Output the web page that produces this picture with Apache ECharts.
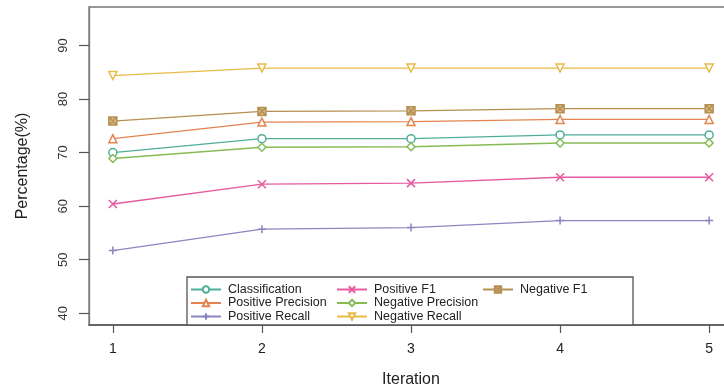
<!DOCTYPE html>
<html>
<head>
<meta charset="utf-8">
<script src="https://cdn.jsdelivr.net/npm/echarts@6/dist/echarts.min.js"></script>
<style>
  html, body { margin: 0; padding: 0; background: #fff; }
  #chart { width: 724px; height: 390px; }
</style>
</head>
<body>
<div id="chart"></div>
<script>
// Iterations on the x axis
const iterations = [1, 2, 3, 4, 5];
const yTicks = [40, 50, 60, 70, 80, 90];

// Scores (%) per iteration
const classification = [70.0, 72.6, 72.6, 73.3, 73.3];
const positivePrecision = [72.6, 75.7, 75.8, 76.2, 76.2];
const positiveRecall = [51.7, 55.7, 56.0, 57.3, 57.3];
const positiveF1 = [60.4, 64.1, 64.3, 65.4, 65.4];
const negativePrecision = [68.9, 71.0, 71.1, 71.8, 71.8];
const negativeRecall = [84.4, 85.8, 85.8, 85.8, 85.8];
const negativeF1 = [75.9, 77.7, 77.8, 78.2, 78.2];

const seriesNames = [
  'Classification', 'Positive Precision', 'Positive Recall',
  'Positive F1', 'Negative Precision', 'Negative Recall', 'Negative F1'
];
const seriesValues = [
  classification, positivePrecision, positiveRecall,
  positiveF1, negativePrecision, negativeRecall, negativeF1
];

// Dark2-like palette, softened
const colors = ['#4fae98', '#e3844f', '#8a86c0', '#e65a9f', '#86bb55', '#e9bb45', '#b68f52'];

// Markers: circle, triangle, plus, cross, diamond, inverted triangle, boxed cross
const symbols = [
  'circle',
  'path://M0,-10 L9,7 L-9,7 Z',
  'path://M0,-10 L0,10 M-10,0 L10,0',
  'path://M-8,-8 L8,8 M-8,8 L8,-8',
  'path://M0,-10 L10,0 L0,10 L-10,0 Z',
  'path://M0,10 L9,-7 L-9,-7 Z',
  'path://M-8,-8 L8,-8 L8,8 L-8,8 Z M-8,-8 L8,8 M-8,8 L8,-8'
];

const FONT = '"Liberation Sans", Arial, Helvetica, sans-serif';

const series = seriesNames.map((name, i) => ({
  name: name,
  type: 'line',
  data: iterations.map((x, j) => [x, seriesValues[i][j]]),
  symbol: symbols[i],
  symbolSize: 8,
  showSymbol: true,
  color: colors[i],
  lineStyle: { width: 1.3, color: colors[i] },
  itemStyle: { color: i === 6 ? '#d8bc88' : '#fff', borderColor: colors[i], borderWidth: 1.5 },
  emphasis: { disabled: true },
  animation: false,
  z: 2
}));

function legendFor(names, left) {
  return {
    data: names,
    orient: 'vertical',
    left: left,
    top: 283,
    itemWidth: 30,
    itemHeight: 8,
    itemGap: 0.5,
    padding: 0,
    selectedMode: false,
    textStyle: { fontFamily: FONT, fontSize: 12.5, lineHeight: 12, color: '#222', padding: [0, 0, 0, 2] }
  };
}

const chart = echarts.init(document.getElementById('chart'), null, { renderer: 'canvas' });
chart.setOption({
  animation: false,
  backgroundColor: '#fff',
  grid: {
    left: 89, width: 644, top: 7, bottom: 65,
    outerBoundsMode: 'none',
    containLabel: false,
    show: true, borderColor: '#777', borderWidth: 1.3, backgroundColor: 'transparent'
  },
  xAxis: {
    type: 'value',
    min: 0.84, max: 5.16,
    name: 'Iteration',
    nameLocation: 'middle',
    nameGap: 47,
    nameTextStyle: { fontFamily: FONT, fontSize: 16, color: '#222' },
    axisLine: { show: true, lineStyle: { color: '#555', width: 1.6 } },
    axisTick: { show: true, length: 8, lineStyle: { color: '#555', width: 1.2 }, customValues: iterations },
    axisLabel: { fontFamily: FONT, fontSize: 14, color: '#222', margin: 17, customValues: iterations },
    splitLine: { show: false }
  },
  yAxis: {
    type: 'value',
    min: 37.8, max: 97.2,
    name: 'Percentage(%)',
    nameLocation: 'middle',
    nameGap: 58,
    nameRotate: 90,
    nameTextStyle: { fontFamily: FONT, fontSize: 16, color: '#222' },
    axisLine: { show: true, lineStyle: { color: '#777', width: 1.3 } },
    axisTick: { show: true, length: 10, lineStyle: { color: '#555', width: 1.2 }, customValues: yTicks },
    axisLabel: { fontFamily: FONT, fontSize: 13, color: '#333', rotate: 90, margin: 19, customValues: yTicks },
    splitLine: { show: false }
  },
  legend: [
    legendFor(seriesNames.slice(0, 3), 190),
    legendFor(seriesNames.slice(3, 6), 336),
    legendFor(seriesNames.slice(6, 7), 482)
  ],
  graphic: [{
    type: 'rect',
    z: 3,
    shape: { x: 187, y: 277, width: 446, height: 48 },
    style: { fill: '#fff', stroke: '#555', lineWidth: 1.3 }
  }],
  series: series
});
</script>
</body>
</html>
